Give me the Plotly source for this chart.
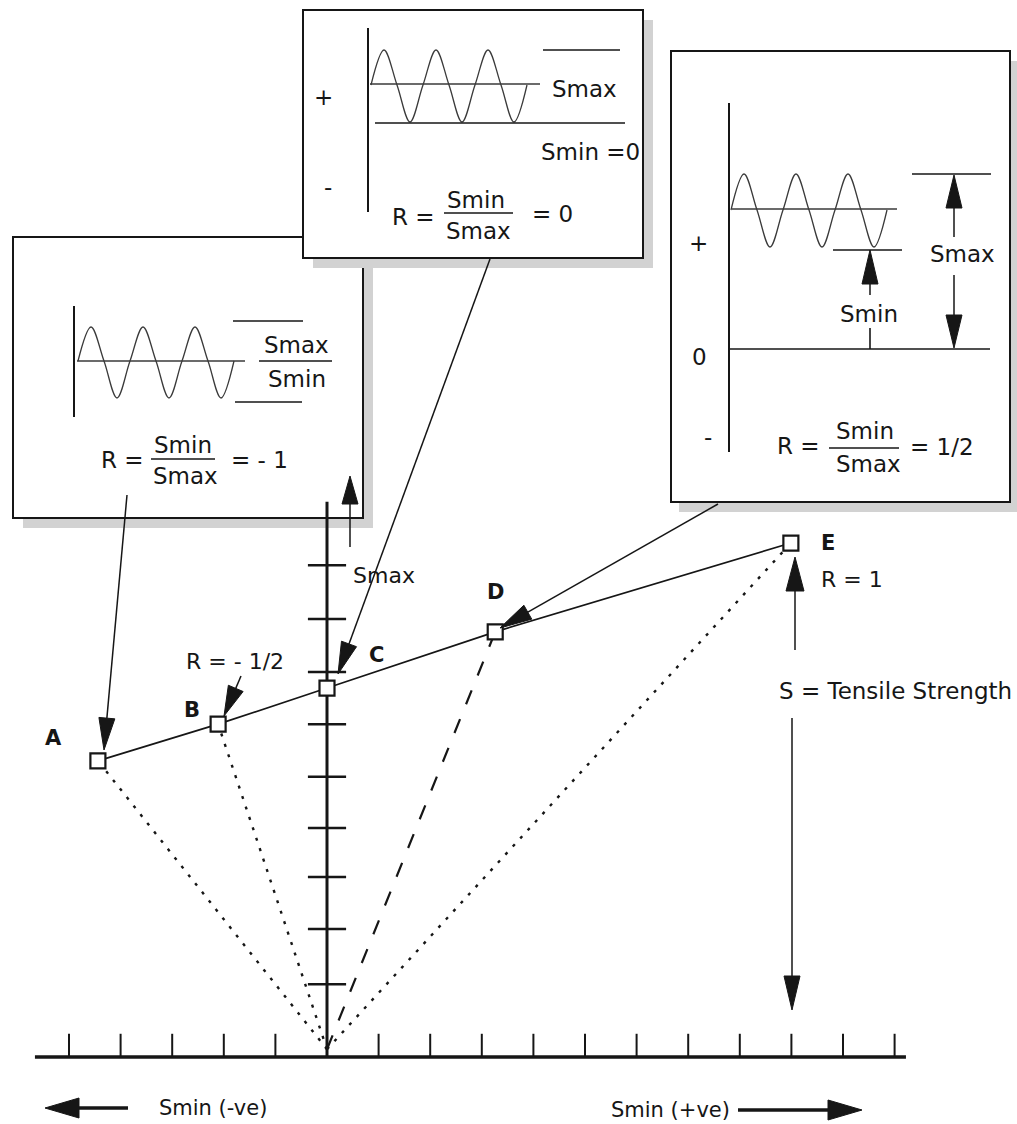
import math
import plotly.graph_objects as go

# ---------------- data (diagram units: 1 unit = one tick spacing) ----------------
point_labels = ["A", "B", "C", "D", "E"]
point_smin = [-4.44, -2.11, 0.0, 3.26, 8.99]     # horizontal value (Smin)
point_smax = [5.74, 6.45, 7.15, 8.24, 9.96]      # vertical value (Smax)
ray_styles = ["dot", "dot", None, "dash", "dot"]  # line from origin to each point
smin_ticks = [-5, -4, -3, -2, -1, 1, 2, 3, 4, 5, 6, 7, 8, 9, 10, 11]
smax_ticks = [1.41, 2.48, 3.49, 4.44, 5.43, 6.45, 7.46, 8.49, 9.53]
smin_axis_extent = [-5.66, 11.22]
smax_axis_extent = [0.0, 10.76]

# schematic waveform control points (phase in cycles, level -1..1)
wave_phase = [0, 0.25, 0.5, 0.75, 1, 1.25, 1.5, 1.75, 2, 2.25, 2.5, 2.75, 3]
wave_level = [0, 1, 0, -1, 0, 1, 0, -1, 0, 1, 0, -1, 0]

# ---------------- geometry / style ----------------
W, H = 1017, 1124
X0, Y0, U = 327, 1057, 51.6          # pixel position of origin, pixels per unit
INK = "#161616"
WAVE = "#3a3a3a"
SHADOW = "#d2d2d2"
FONT = "DejaVu Sans"
FS = 23     # inset text size


def ux(p):
    return (p - X0) / U


def uy(p):
    return (Y0 - p) / U


traces = []
shapes = []
annotations = []


def seg(xs, ys, width=1.5, color=INK, dash=None, px=True):
    if px:
        xs = [None if v is None else ux(v) for v in xs]
        ys = [None if v is None else uy(v) for v in ys]
    traces.append(go.Scatter(x=xs, y=ys, mode="lines",
                             line=dict(color=color, width=width, dash=dash),
                             hoverinfo="skip", showlegend=False))


def arrow(x0, y0, x1, y1, L=32, w=8, width=1.5):
    dx, dy = x1 - x0, y1 - y0
    d = math.hypot(dx, dy)
    ex, ey = dx / d, dy / d
    bx, by = x1 - ex * L, y1 - ey * L
    nx, ny = -ey, ex
    seg([x0, bx + ex * 3], [y0, by + ey * 3], width)
    tx = [x1, bx + nx * w, bx - nx * w, x1]
    ty = [y1, by + ny * w, by - ny * w, y1]
    traces.append(go.Scatter(x=[ux(v) for v in tx], y=[uy(v) for v in ty],
                             mode="lines", fill="toself", fillcolor=INK,
                             line=dict(color=INK, width=1),
                             hoverinfo="skip", showlegend=False))


def text(s, px, py, size=FS, anchor="center", bold=False):
    if bold:
        s = "<b>" + s + "</b>"
    annotations.append(dict(x=ux(px), y=uy(py), xref="x", yref="y", text=s,
                            showarrow=False, xanchor=anchor, yanchor="middle",
                            font=dict(family=FONT, size=size, color=INK)))


def box(x0, y0, x1, y1, sx=10, sy=10):
    shapes.append(dict(type="rect", xref="x", yref="y",
                       x0=ux(x0 + sx), x1=ux(x1 + sx), y0=uy(y0 + sy), y1=uy(y1 + sy),
                       fillcolor=SHADOW, line=dict(width=0), layer="below"))
    shapes.append(dict(type="rect", xref="x", yref="y",
                       x0=ux(x0), x1=ux(x1), y0=uy(y0), y1=uy(y1),
                       fillcolor="white", line=dict(color=INK, width=2), layer="below"))


def wave(x_start, period, mid, up, down):
    xs = [x_start + period * p for p in wave_phase]
    ys = [mid - (up if l > 0 else down) * l for l in wave_level]
    traces.append(go.Scatter(x=[ux(v) for v in xs], y=[uy(v) for v in ys],
                             mode="lines",
                             line=dict(shape="spline", smoothing=1.0, color=WAVE, width=1.3),
                             hoverinfo="skip", showlegend=False))


# ---------------- inset boxes ----------------
box(13, 237, 363, 518)      # R = -1
box(303, 10, 643, 258)      # R = 0
box(671, 51, 1010, 502, sx=8)  # R = 1/2

# ---- inset R = -1 ----
seg([74, 74], [306, 417], 2)
seg([77, 245], [361, 361], 1.3, WAVE)
wave(78, 52, 361, 34, 37)
seg([233, 303], [321, 321], 1.6)
seg([235, 302], [402, 402], 1.6)
text("Smax", 296, 345)
seg([259, 332], [361, 361], 1.6)
text("Smin", 297, 379)
text("R =", 146, 460, anchor="right")
text("Smin", 183, 445)
seg([151, 215], [459, 459], 1.6)
text("Smax", 185, 476)
text("= - 1", 229, 460, anchor="left")

# ---- inset R = 0 ----
text("+", 323, 97)
text("-", 328, 187)
seg([368, 368], [28, 212], 2)
seg([370, 540], [84, 84], 1.3, WAVE)
wave(371, 52, 85, 35, 37)
seg([543, 620], [50, 50], 1.6)
seg([375, 625], [123, 123], 1.6)
text("Smax", 584, 89)
text("Smin =0", 539, 152, anchor="left")
text("R =", 437, 217, anchor="right")
text("Smin", 476, 200)
seg([444, 513], [213, 213], 1.6)
text("Smax", 478, 231)
text("= 0", 530, 214, anchor="left")

# ---- inset R = 1/2 ----
text("+", 698, 243)
text("0", 699, 357)
text("-", 708, 437)
seg([729, 729], [103, 452], 2)
seg([732, 897], [209, 209], 1.3, WAVE)
wave(731, 52, 210, 36, 37)
seg([730, 990], [349, 349], 1.6)
seg([912, 991], [174, 174], 1.6)
seg([833, 902], [250, 250], 1.6)
arrow(870, 295, 870, 250, L=34, w=8)
text("Smin", 869, 314)
seg([870, 870], [328, 349], 1.6)
arrow(954, 237, 954, 175, L=33, w=8)
text("Smax", 962, 254)
arrow(954, 275, 954, 348, L=33, w=8)
text("R =", 822, 446, anchor="right")
text("Smin", 865, 431)
seg([829, 899], [448, 448], 1.6)
text("Smax", 868, 464)
text("= 1/2", 908, 447, anchor="left")

# ---------------- main diagram (data units) ----------------
# horizontal Smin axis + ticks
seg(smin_axis_extent, [0, 0], 3.5, px=False)
tx, ty = [], []
for t in smin_ticks:
    tx += [t, t, None]
    ty += [0, 0.45, None]
seg(tx, ty, 2, px=False)

# vertical Smax axis + ticks
seg([0, 0], smax_axis_extent, 3, px=False)
vx, vy = [], []
for v in smax_ticks:
    vx += [-0.37, 0.37, None]
    vy += [v, v, None]
seg(vx, vy, 2.5, px=False)

# rays from origin
for sx_, sy_, st in zip(point_smin, point_smax, ray_styles):
    if st == "dot":
        seg([0, sx_], [0.15, sy_], 2.4, dash="3px,8px", px=False)
    elif st == "dash":
        seg([0, sx_], [0.15, sy_], 2.2, dash="15px,16px", px=False)

# constant-life line through the points
traces.append(go.Scatter(x=point_smin, y=point_smax, mode="lines+markers",
                         line=dict(color=INK, width=1.7),
                         marker=dict(symbol="square", size=15, color="white",
                                     line=dict(color=INK, width=2.2)),
                         hoverinfo="skip", showlegend=False))

# point letters
letter_pos = {"A": (53, 738), "B": (192, 710), "C": (376, 655), "D": (495, 592), "E": (828, 543)}
for lab in point_labels:
    text(lab, letter_pos[lab][0], letter_pos[lab][1], size=21, bold=True)

# pointer arrows
arrow(127, 495, 104, 750)          # inset -> A
arrow(241, 676, 224, 716, L=30, w=8)   # R=-1/2 -> B
arrow(490, 259, 338, 674)          # inset -> C
arrow(718, 504, 500, 628)          # inset -> D
arrow(350, 547, 350, 476, L=28, w=8)   # Smax arrow
arrow(795, 650, 795, 557, L=34, w=9)   # tensile up
arrow(792, 718, 792, 1010, L=34, w=8)  # tensile down
arrow(128, 1108, 45, 1108, L=34, w=10, width=3.5)
arrow(738, 1110, 862, 1110, L=34, w=10, width=3.5)

text("R = - 1/2", 184, 661, size=22, anchor="left")
text("Smax", 351, 575, size=22, anchor="left")
text("R = 1", 819, 579, size=22, anchor="left")
text("S = Tensile Strength", 777, 691, size=23, anchor="left")
text("Smin (-ve)", 157, 1108, size=21, anchor="left")
text("Smin (+ve)", 609, 1110, size=21, anchor="left")

fig = go.Figure(data=traces)
fig.update_layout(
    width=W, height=H,
    margin=dict(l=0, r=0, t=0, b=0),
    paper_bgcolor="white", plot_bgcolor="white",
    xaxis=dict(range=[ux(0), ux(W)], visible=False, fixedrange=True),
    yaxis=dict(range=[uy(H), uy(0)], visible=False, fixedrange=True),
    showlegend=False, shapes=shapes, annotations=annotations,
)
fig.write_html("out.html", config={"displayModeBar": False},
               post_script="document.body.style.margin='0';")
